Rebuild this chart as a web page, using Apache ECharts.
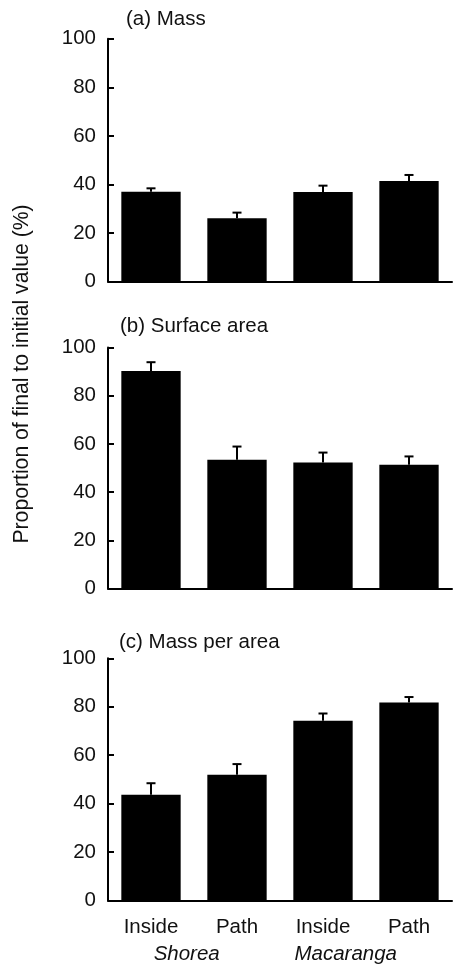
<!DOCTYPE html>
<html>
<head>
<meta charset="utf-8">
<style>
html,body{margin:0;padding:0;background:#fff;}
#chart{width:453px;height:968px;}
</style>
<script src="https://cdn.jsdelivr.net/npm/echarts@6/dist/echarts.min.js"></script>
</head>
<body>
<div id="chart"></div>
<script>
const categories = ['Inside', 'Path', 'Inside', 'Path'];
const species = ['Shorea', 'Macaranga'];
const panelTitles = ['(a) Mass', '(b) Surface area', '(c) Mass per area'];
const yAxisTitle = 'Proportion of final to initial value (%)';

const massMean = [37.0, 26.1, 36.9, 41.4];
const massUpper = [38.4, 28.4, 39.5, 43.9];
const areaMean = [90.2, 53.4, 52.3, 51.3];
const areaUpper = [93.9, 58.9, 56.4, 54.8];
const mpaMean = [43.6, 51.9, 74.2, 81.7];
const mpaUpper = [48.4, 56.3, 77.2, 84.0];

const yTicks = [0, 20, 40, 60, 80, 100];

const FONT = 'Liberation Sans, Arial, sans-serif';
const FS = 20.5;
const TXT = '#111';

const panels = [
  { mean: massMean, upper: massUpper, top: 38.7, height: 242.9 },
  { mean: areaMean, upper: areaUpper, top: 347.5, height: 241.0 },
  { mean: mpaMean, upper: mpaUpper, top: 658.3, height: 242.1 }
];

const grids = [], xAxes = [], yAxes = [], series = [];
panels.forEach((p, i) => {
  grids.push({ left: 108, right: 1, top: p.top, height: p.height });
  xAxes.push({
    type: 'category', gridIndex: i, data: categories,
    axisLine: { lineStyle: { color: '#000', width: 2 } },
    axisTick: { inside: true, length: 6, lineStyle: { color: '#000', width: 2 } },
    axisLabel: {
      show: i === 2, color: TXT, fontSize: FS, fontFamily: FONT, margin: 16
    },
    splitLine: { show: false }
  });
  yAxes.push({
    type: 'value', gridIndex: i,
    min: yTicks[0], max: yTicks[yTicks.length - 1], interval: yTicks[1] - yTicks[0],
    axisLine: { show: true, lineStyle: { color: '#000', width: 2 } },
    axisTick: { show: true, inside: true, length: 6, lineStyle: { color: '#000', width: 2 } },
    axisLabel: { color: TXT, fontSize: FS, fontFamily: FONT, margin: 12 },
    splitLine: { show: false }
  });
  series.push({
    type: 'bar', xAxisIndex: i, yAxisIndex: i,
    data: p.mean, barWidth: '69%',
    itemStyle: { color: '#000' }, z: 2, silent: true
  });
  series.push({
    type: 'custom', xAxisIndex: i, yAxisIndex: i, z: 3, silent: true,
    data: p.mean.map((m, k) => [k, m, p.upper[k]]),
    encode: { x: 0, y: [1, 2] },
    renderItem: function (params, api) {
      const x = api.value(0), m = api.value(1), u = api.value(2);
      const p0 = api.coord([x, m]);
      const p1 = api.coord([x, u]);
      const st = { stroke: '#000', lineWidth: 2 };
      return {
        type: 'group',
        children: [
          { type: 'line', shape: { x1: p0[0], y1: p0[1], x2: p1[0], y2: p1[1] }, style: st },
          { type: 'line', shape: { x1: p1[0] - 4.5, y1: p1[1], x2: p1[0] + 4.5, y2: p1[1] }, style: st }
        ]
      };
    }
  });
});

const titlePos = [[126, 19.5], [120, 326], [119, 642]];
const graphics = panelTitles.map((t, i) => ({
  type: 'text', x: titlePos[i][0], y: titlePos[i][1],
  style: { text: t, fill: TXT, font: FS + 'px ' + FONT, textAlign: 'left', textVerticalAlign: 'middle' }
}));
graphics.push({
  type: 'text', x: 22, y: 374, rotation: Math.PI / 2,
  style: { text: yAxisTitle, fill: TXT, font: '21.2px ' + FONT, textAlign: 'center', textVerticalAlign: 'middle' }
});
const speciesX = [186.7, 345.7];
species.forEach((s, i) => {
  graphics.push({
    type: 'text', x: speciesX[i], y: 954.5,
    style: { text: s, fill: TXT, font: 'italic ' + FS + 'px ' + FONT, textAlign: 'center', textVerticalAlign: 'middle' }
  });
});

const chart = echarts.init(document.getElementById('chart'), null, { renderer: 'canvas' });
chart.setOption({
  animation: false,
  backgroundColor: '#fff',
  grid: grids,
  xAxis: xAxes,
  yAxis: yAxes,
  series: series,
  graphic: graphics
});
</script>
</body>
</html>
